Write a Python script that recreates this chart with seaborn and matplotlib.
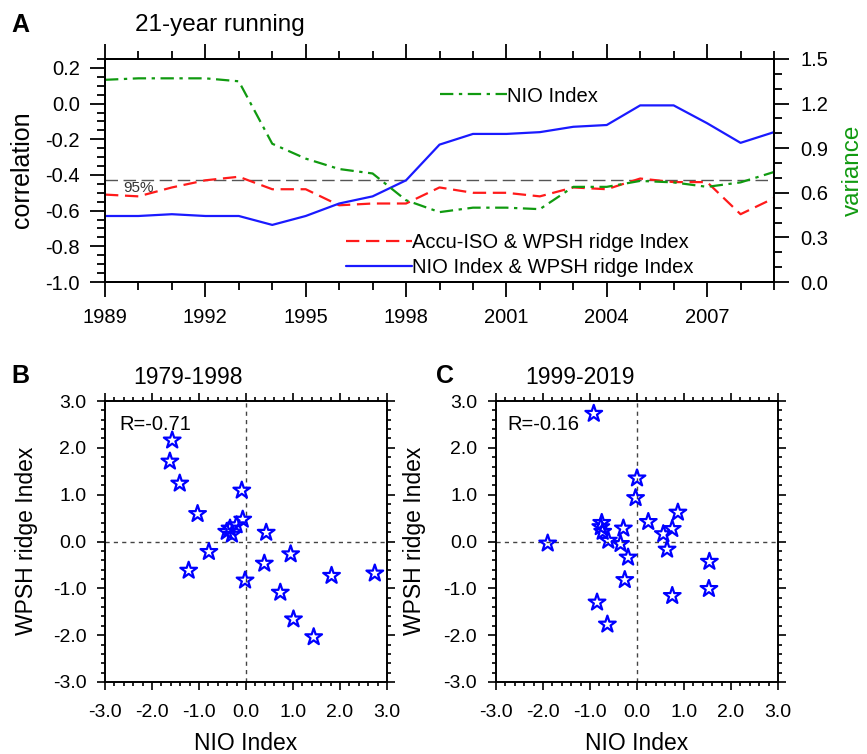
import numpy as np
import pandas as pd
import matplotlib
matplotlib.use("Agg")
import matplotlib.pyplot as plt
import seaborn as sns
from matplotlib.ticker import MultipleLocator, FormatStrFormatter

# ---------------- data ----------------
years = list(range(1989, 2010))
corr_accu_wpsh = [-0.51, -0.52, -0.47, -0.43, -0.41, -0.48, -0.48, -0.57, -0.56, -0.56,
                  -0.47, -0.50, -0.50, -0.52, -0.47, -0.48, -0.42, -0.44, -0.44, -0.62, -0.53]
corr_nio_wpsh = [-0.63, -0.63, -0.62, -0.63, -0.63, -0.68, -0.63, -0.56, -0.52, -0.43,
                 -0.23, -0.17, -0.17, -0.16, -0.13, -0.12, -0.01, -0.01, -0.11, -0.22, -0.16]
var_nio = [1.36, 1.37, 1.37, 1.37, 1.35, 0.93, 0.83, 0.76, 0.73, 0.55,
           0.47, 0.50, 0.50, 0.49, 0.64, 0.64, 0.68, 0.67, 0.64, 0.67, 0.74]
sig95 = -0.43

b_nio = [-1.57, -1.62, -1.41, -1.03, -0.09, -0.07, -0.20, -0.34, -0.41, -0.30, 0.43,
         -0.79, -1.22, -0.02, 0.39, 0.95, 0.73, 1.01, 1.44, 1.82, 2.74]
b_wpsh = [2.16, 1.71, 1.24, 0.59, 1.09, 0.47, 0.35, 0.28, 0.21, 0.15, 0.19,
          -0.22, -0.62, -0.83, -0.47, -0.27, -1.09, -1.66, -2.04, -0.73, -0.68]
c_nio = [-0.92, 0.00, -0.03, 0.87, 0.24, -0.75, -0.77, -0.73, -0.29, -0.61, -0.35,
         -1.90, -0.19, 0.56, 0.75, 0.64, 1.54, 1.53, -0.26, 0.75, -0.85, -0.63]
c_wpsh = [2.73, 1.35, 0.93, 0.62, 0.42, 0.40, 0.31, 0.21, 0.28, 0.02, -0.05,
          -0.04, -0.34, 0.16, 0.27, -0.17, -0.43, -1.01, -0.82, -1.16, -1.30, -1.77]

# ---------------- style ----------------
sns.set_style("ticks")
plt.rcParams["font.family"] = ["Liberation Sans", "DejaVu Sans"]
plt.rcParams["axes.unicode_minus"] = False
plt.rcParams["axes.linewidth"] = 1.4
for k in ("text.color", "axes.labelcolor", "xtick.color", "ytick.color", "axes.edgecolor"):
    plt.rcParams[k] = "black"

W, H = 867, 754
fig = plt.figure(figsize=(W / 100, H / 100), dpi=100)


def fx(px):
    return px / W


def fy(py):
    return 1 - py / H


def box(l, t, r, b):
    return [fx(l), fy(b), fx(r) - fx(l), fy(t) - fy(b)]


axA = fig.add_axes(box(105, 59, 774, 282))
axA2 = axA.twinx()
axB = fig.add_axes(box(105, 401, 387, 682))
axC = fig.add_axes(box(496, 401, 778, 682))

# ---------------- panel A ----------------
dfA = pd.DataFrame({"year": years, "accu": corr_accu_wpsh,
                    "nio": corr_nio_wpsh, "var": var_nio})

axA.axhline(sig95, color="#555555", lw=1.0, linestyle=(0, (9, 4)), zorder=1)
sns.lineplot(data=dfA, x="year", y="accu", ax=axA, color="#ff1a1a", lw=1.6,
             linestyle=(0, (6, 3)), legend=False)
sns.lineplot(data=dfA, x="year", y="nio", ax=axA, color="#1a1aff", lw=1.6,
             legend=False)
sns.lineplot(data=dfA, x="year", y="var", ax=axA2, color="#109a10", lw=1.6,
             linestyle=(0, (6, 2.5, 1.5, 2.5)), legend=False)

axA.set_xlim(1989, 2009)
axA.set_ylim(-1.0, 0.25)
axA2.set_ylim(0.0, 1.5)
axA.set_xlabel("")
axA.set_ylabel("")
axA2.set_ylabel("")
axA2.set_xlabel("")

axA.xaxis.set_major_locator(MultipleLocator(3))
axA.xaxis.set_minor_locator(MultipleLocator(1))
axA.yaxis.set_major_locator(MultipleLocator(0.2))
axA.yaxis.set_minor_locator(MultipleLocator(0.05))
axA.yaxis.set_major_formatter(FormatStrFormatter("%.1f"))
axA2.yaxis.set_major_locator(MultipleLocator(0.3))
axA2.yaxis.set_minor_locator(MultipleLocator(0.1))
axA2.yaxis.set_major_formatter(FormatStrFormatter("%.1f"))

axA.tick_params(axis="x", which="both", direction="out", top=True, bottom=True,
                labeltop=False, labelsize=14.5, pad=8, width=1.3)
axA.tick_params(axis="x", which="major", length=11)
axA.tick_params(axis="x", which="minor", length=5.5)
axA.tick_params(axis="y", which="both", direction="out", left=True, right=False,
                labelsize=14.5, pad=7, width=1.3)
axA.tick_params(axis="y", which="major", length=11)
axA.tick_params(axis="y", which="minor", length=6)
axA2.tick_params(axis="y", which="both", direction="out", right=True,
                 labelsize=14.5, pad=8, width=1.3)
axA2.tick_params(axis="y", which="major", length=11)
axA2.tick_params(axis="y", which="minor", length=6)
for ax in (axA, axA2):
    for s in ax.spines.values():
        s.set_visible(True)
        s.set_linewidth(1.4)
        s.set_color("black")

axA.text(1989.55, -0.475, "95%", fontsize=11, color="#333333", va="center", ha="left")

l_accu, l_nio = axA.lines[1], axA.lines[2]
l_var = axA2.lines[0]
axA2.legend(handles=[l_var], labels=["NIO Index"], loc="center left",
            bbox_to_anchor=(0.501, 0.834), frameon=False, handlelength=3.3,
            handletextpad=0.0, borderpad=0, borderaxespad=0, fontsize=14.5)
leg = axA.legend(handles=[l_accu, l_nio],
                 labels=["Accu-ISO & WPSH ridge Index", "NIO Index & WPSH ridge Index"],
                 loc="center left", bbox_to_anchor=(0.360, 0.123), frameon=False,
                 handlelength=3.3, handletextpad=0.0, borderpad=0, borderaxespad=0,
                 labelspacing=0.3, fontsize=14.5)

fig.text(fx(20), fy(25), "A", fontsize=18, fontweight="bold", ha="center", va="center")
fig.text(fx(135), fy(25), "21-year running", fontsize=17.5, ha="left", va="center")
fig.text(fx(22), fy(170), "correlation", fontsize=18, rotation=90, ha="center", va="center")
fig.text(fx(853), fy(170), "variance", fontsize=17.5, rotation=90, ha="center",
         va="center", color="#109a10")

# ---------------- panels B, C ----------------
def scatter_panel(ax, xs, ys):
    df = pd.DataFrame({"nio": xs, "wpsh": ys})
    ax.axhline(0, color="#444444", lw=1.0, linestyle=(0, (3, 3)), zorder=1)
    ax.axvline(0, color="#444444", lw=1.0, linestyle=(0, (3, 3)), zorder=1)
    sns.scatterplot(data=df, x="nio", y="wpsh", ax=ax, marker="*", s=160,
                    legend=False, zorder=3)
    coll = ax.collections[-1]
    coll.set_facecolor("none")
    coll.set_edgecolor("#0000ff")
    coll.set_linewidth(1.6)
    ax.set_xlim(-3, 3)
    ax.set_ylim(-3, 3)
    ax.set_xlabel("")
    ax.set_ylabel("")
    for a in (ax.xaxis, ax.yaxis):
        a.set_major_locator(MultipleLocator(1.0))
        a.set_minor_locator(MultipleLocator(0.2))
        a.set_major_formatter(FormatStrFormatter("%.1f"))
    ax.tick_params(axis="both", which="both", direction="out", top=True, right=True,
                   labelsize=14, width=1.2)
    ax.tick_params(axis="both", which="major", length=5.5)
    ax.tick_params(axis="x", which="major", pad=10)
    ax.tick_params(axis="y", which="major", pad=8)
    ax.tick_params(axis="both", which="minor", length=3)
    for s in ax.spines.values():
        s.set_visible(True)
        s.set_linewidth(1.4)
        s.set_color("black")


scatter_panel(axB, b_nio, b_wpsh)
scatter_panel(axC, c_nio, c_wpsh)

axB.text(0.05, 0.915, "R=-0.71", transform=axB.transAxes, fontsize=14.5, ha="left", va="center")
axC.text(0.04, 0.915, "R=-0.16", transform=axC.transAxes, fontsize=14.5, ha="left", va="center")

fig.text(fx(20), fy(376), "B", fontsize=18, fontweight="bold", ha="center", va="center")
fig.text(fx(133), fy(377), "1979-1998", fontsize=16.5, ha="left", va="center")
fig.text(fx(445), fy(376), "C", fontsize=18, fontweight="bold", ha="center", va="center")
fig.text(fx(525), fy(377), "1999-2019", fontsize=16.5, ha="left", va="center")

fig.text(fx(27), fy(541), "WPSH ridge Index", fontsize=16.5, rotation=90, ha="center", va="center")
fig.text(fx(415), fy(541), "WPSH ridge Index", fontsize=16.5, rotation=90, ha="center", va="center")
fig.text(fx(246), fy(743), "NIO Index", fontsize=16.5, ha="center", va="center")
fig.text(fx(637), fy(743), "NIO Index", fontsize=16.5, ha="center", va="center")

fig.savefig("out.png", dpi=100)
